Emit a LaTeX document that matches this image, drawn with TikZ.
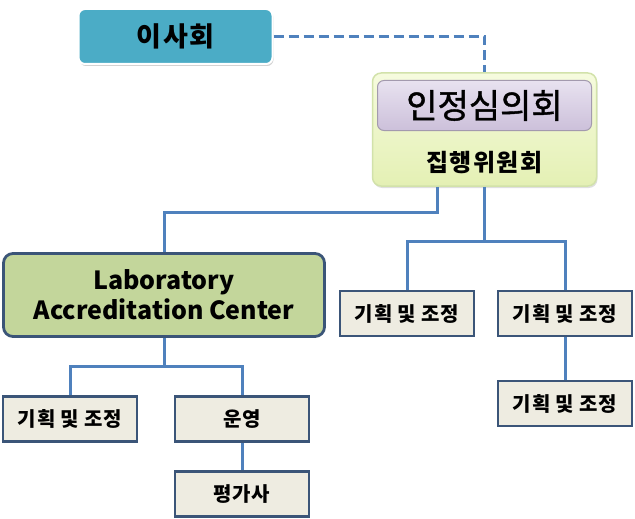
\documentclass[tikz,border=0pt]{standalone}
\usepackage{fontspec}
\newfontfamily\kr{Noto Sans CJK KR}
\usetikzlibrary{calc,shadows}
\definecolor{linie}{RGB}{79,129,189}
\definecolor{rand}{RGB}{59,85,120}
\definecolor{kasten}{RGB}{238,236,225}
\definecolor{petrol}{RGB}{75,172,198}
\definecolor{oliv}{RGB}{195,214,155}
\definecolor{lila-hell}{RGB}{232,226,240}
\definecolor{lila}{RGB}{204,192,218}
\definecolor{gruen-hell}{RGB}{246,251,222}
\definecolor{gruen}{RGB}{228,240,180}
\definecolor{gruen-rand}{RGB}{210,226,170}

\begin{document}
\begin{tikzpicture}[x=1pt, y=-1pt, font=\kr\bfseries,
	conn/.style={linie, line width=3pt},
	unit/.style={draw=rand, line width=2.8pt, fill=kasten, minimum width=134pt, minimum height=45pt, inner sep=0pt, font=\kr\bfseries\fontsize{20}{22}\selectfont\addfontfeature{LetterSpace=4}}]

	\useasboundingbox (0,0) rectangle (635,519);

	% oberste Ebene
	\node[draw=white, line width=2pt, fill=petrol, rounded corners=1.5ex, drop shadow={opacity=0.35, shadow xshift=1pt, shadow yshift=-2pt}, minimum width=194pt, minimum height=55pt, font=\kr\bfseries\fontsize{27}{30}\selectfont\addfontfeature{LetterSpace=6}] (board) at (175.5,36.5) {이사회};

	\node[draw=gruen-rand, line width=1.5pt, top color=gruen-hell, bottom color=gruen, rounded corners=2ex, drop shadow={opacity=0.25, shadow xshift=1pt, shadow yshift=-2pt}, minimum width=224pt, minimum height=113pt] (council) at (484.5,129.5) {};
	\node[draw=lila!80!black, line width=1pt, top color=lila-hell, bottom color=lila, rounded corners=1.5ex, minimum width=214pt, minimum height=50pt, font=\kr\fontsize{34}{36}\selectfont\addfontfeature{FakeBold=1.2}] (accr) at (484.5,105.5) {인정심의회};
	\node[font=\kr\bfseries\fontsize{24}{26}\selectfont\addfontfeature{LetterSpace=6}] (exec) at (484.5,163) {집행위원회};

	\draw[conn, dash pattern=on 10pt off 5pt] (board.east) -| (council.north);

	% Center
	\node[draw=rand, line width=2.8pt, fill=oliv, rounded corners=2.2ex, minimum width=321pt, minimum height=83pt, align=center, font=\kr\bfseries\fontsize{25}{30}\selectfont] (lac) at (164,295) {Laboratory\\Accreditation Center};

	\node[unit] (planA) at (407,313.5) {기획 및 조정};
	\node[unit] (planB) at (565,313.5) {기획 및 조정};
	\node[unit] (planC) at (565,403.5) {기획 및 조정};
	\node[unit] (planD) at (70,419) {기획 및 조정};
	\node[unit] (ops) at (242,419) {운영};
	\node[unit] (eval) at (242,494) {평가사};

	% Verbindungen
	\draw[conn] ($(council.south)+(-47,0)$) -- ++(0,26) -| (lac.north);
	\draw[conn] (council.south) -- ++(0,55) coordinate (rj);
	\draw[conn] (rj) -| (planA.north);
	\draw[conn] (rj) -| (planB.north);
	\draw[conn] (planB.south) -- (planC.north);
	\draw[conn] (lac.south) -- ++(0,29) coordinate (lj);
	\draw[conn] (lj) -| (planD.north);
	\draw[conn] (lj) -| (ops.north);
	\draw[conn] (ops.south) -- (eval.north);

\end{tikzpicture}
\end{document}
